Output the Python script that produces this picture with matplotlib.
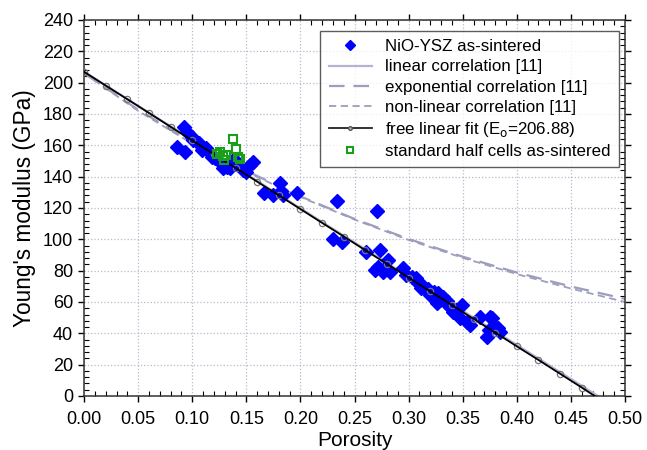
import matplotlib
matplotlib.use("Agg")
import matplotlib.pyplot as plt
from matplotlib.ticker import MultipleLocator

plt.rcParams['font.family'] = ['Liberation Sans', 'DejaVu Sans']

# NiO-YSZ as-sintered (porosity, Young's modulus in GPa)
blue_x = [0.086, 0.093, 0.092, 0.095, 0.0995, 0.101, 0.106, 0.109, 0.109, 0.113,
          0.1165, 0.118, 0.121, 0.1257, 0.1287, 0.132, 0.135, 0.138, 0.1426, 0.147,
          0.150, 0.153, 0.156, 0.166, 0.175, 0.181, 0.182, 0.184, 0.1966, 0.2335,
          0.2705, 0.230, 0.238, 0.261, 0.2735, 0.272, 0.281, 0.278, 0.283, 0.269,
          0.276, 0.295, 0.298, 0.303, 0.307, 0.309, 0.313, 0.317, 0.320, 0.323,
          0.327, 0.329, 0.326, 0.332, 0.335, 0.338, 0.341, 0.349, 0.3475, 0.354,
          0.357, 0.366, 0.375, 0.372, 0.374, 0.380, 0.3845, 0.377, 0.383, 0.311,
          0.318, 0.330, 0.336, 0.344]
blue_y = [159, 156, 171.5, 168.5, 165.5, 163.4, 161.3, 159, 157, 158,
          155, 152.8, 151.7, 149.6, 145.5, 146.4, 145.3, 150.6, 148.5, 144.2,
          143.2, 147.4, 149.6, 129.3, 128.3, 135.7, 131, 128, 129.8, 124.7,
          118.3, 100.2, 98.5, 92, 93.2, 82.5, 86.8, 81.5, 79.4, 80.4,
          79, 81.5, 77.2, 76, 75, 72, 70, 67.7, 64.5, 66.6,
          65.5, 61.3, 59.1, 63.4, 60.5, 57, 53.8, 58.1, 49.6, 47.4,
          45.3, 50.6, 50.6, 37.9, 42.1, 44.2, 41, 49.6, 43.2, 69,
          68, 62, 58, 55]

# standard half cells as-sintered
green_x = [0.123, 0.126, 0.128, 0.129, 0.131, 0.138, 0.140, 0.142, 0.144]
green_y = [154.5, 155.5, 153.5, 150.8, 154.0, 163.8, 157.5, 152.8, 151.2]

# correlations from [11]
lin_p = [0.0, 0.1, 0.2, 0.3, 0.4, 0.475]
lin_e = [207, 163.4, 119.8, 76.2, 32.6, 0]

curve_p = [0.0, 0.05, 0.10, 0.15, 0.20, 0.25, 0.30, 0.35, 0.40, 0.45, 0.50]
exp_e = [206, 182.7, 162.0, 143.7, 127.4, 113.0, 100.2, 88.9, 78.8, 69.9, 62.0]
nonlin_e = [206, 182, 161, 143, 127, 112.6, 99.6, 88.2, 77.8, 68.6, 60.0]

# free linear fit, E0 = 206.88
fit_p = [0.0, 0.02, 0.04, 0.06, 0.08, 0.10, 0.12, 0.14, 0.16, 0.18, 0.20, 0.22,
         0.24, 0.26, 0.28, 0.30, 0.32, 0.34, 0.36, 0.38, 0.40, 0.42, 0.44, 0.46, 0.472]
fit_e = [206.9, 198.1, 189.4, 180.6, 171.8, 163.1, 154.3, 145.6, 136.8, 128.1,
         119.3, 110.5, 101.8, 93.0, 84.3, 75.5, 66.8, 58.0, 49.2, 40.5, 31.7,
         23.0, 14.2, 5.4, 0.0]

fig = plt.figure(figsize=(6.47, 4.5), dpi=100)
ax = fig.add_axes([0.130, 0.12, 0.836, 0.8356])

corr_color = '#9d9dbd'
ax.plot(lin_p, lin_e, color='#b4b4d2', lw=1.6, label='linear correlation [11]', zorder=2)
ax.plot(curve_p, exp_e, color=corr_color, lw=1.6, dashes=(7, 4),
        label='exponential correlation [11]', zorder=2)
ax.plot(curve_p, nonlin_e, color=corr_color, lw=1.3, dashes=(4, 2.5),
        label='non-linear correlation [11]', zorder=2)

ax.plot(blue_x, blue_y, linestyle='none', marker='D', ms=7.3, color='#0000ff',
        mec='#0000ff', label='NiO-YSZ as-sintered', zorder=3)

ax.plot(fit_p[:-1], fit_e[:-1], linestyle='none', marker='o', ms=4.5, mfc='none',
        mec='#777777', mew=0.9, zorder=4)
ax.plot(fit_p, fit_e, color='black', lw=1.3, zorder=4)
fit_handle, = ax.plot([], [], color='#222222', lw=1.3, marker='o', ms=3.5,
                      mfc='#bbbbbb', mec='#555555', label='free linear fit (E$_\\mathrm{o}$=206.88)')

ax.plot(green_x, green_y, linestyle='none', marker='s', ms=6, mfc='none',
        mec='#18a018', mew=1.5, label='standard half cells as-sintered', zorder=5)

ax.set_xlim(0, 0.5)
ax.set_ylim(0, 240)
ax.xaxis.set_major_locator(MultipleLocator(0.05))
ax.xaxis.set_minor_locator(MultipleLocator(0.01))
ax.yaxis.set_major_locator(MultipleLocator(20))
ax.yaxis.set_minor_locator(MultipleLocator(4))
ax.set_xticklabels([f'{v:.2f}' for v in ax.get_xticks()])
ax.tick_params(which='major', direction='out', length=4, width=1, labelsize=13,
               top=True, right=True, pad=4)
ax.tick_params(axis='x', which='major', pad=7)
ax.tick_params(which='minor', direction='in', length=3.5, width=0.8, top=True, right=True)
ax.grid(True, which='major', color='#b8b8d0', linestyle=':', linewidth=0.9)
for s in ax.spines.values():
    s.set_color('#333333')
    s.set_linewidth(1.1)

ax.set_xlabel('Porosity', fontsize=15, labelpad=2)
ax.set_ylabel("Young's modulus (GPa)", fontsize=16.3, labelpad=5)

handles, labels = ax.get_legend_handles_labels()
order = ['NiO-YSZ as-sintered', 'linear correlation [11]', 'exponential correlation [11]',
         'non-linear correlation [11]', 'free linear fit (E$_\\mathrm{o}$=206.88)',
         'standard half cells as-sintered']
hmap = dict(zip(labels, handles))
leg = ax.legend([hmap[k] for k in order], order, loc='upper right',
                bbox_to_anchor=(0.989, 0.971), borderaxespad=0, fontsize=12.2,
                frameon=True, fancybox=False, edgecolor='#333333', handlelength=2.55,
                labelspacing=0.30, borderpad=0.5, handletextpad=0.77, markerscale=0.75)
leg.get_frame().set_linewidth(1.0)

fig.savefig('out.png', dpi=100)
